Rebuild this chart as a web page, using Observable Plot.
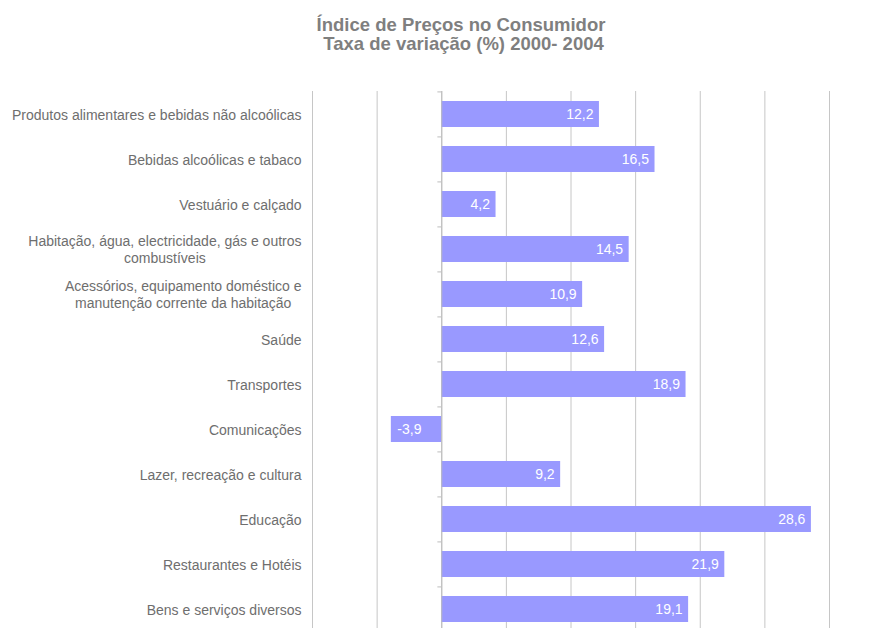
<!DOCTYPE html>
<html>
<head>
<meta charset="utf-8">
<script src="https://cdn.jsdelivr.net/npm/d3@7"></script>
<script src="https://cdn.jsdelivr.net/npm/@observablehq/plot@0.6"></script>
<style>
  html, body { margin: 0; padding: 0; background: #fff; overflow: hidden; }
  #title {
    width: 884px; height: 60px; box-sizing: border-box;
    padding-top: 15px; padding-left: 38px;
    text-align: center;
    font-family: "Liberation Sans", Arial, sans-serif;
    font-weight: bold; font-size: 18.5px; line-height: 19px;
    color: #7f7f7f;
  }
  svg { display: block; }
</style>
</head>
<body>
<div id="title">Índice de Preços no Consumidor<br>&nbsp;Taxa de variação (%) 2000- 2004</div>
<div id="chart"></div>
<script>
const categories = [
  "Produtos alimentares e bebidas não alcoólicas",
  "Bebidas alcoólicas e tabaco",
  "Vestuário e calçado",
  "Habitação, água, electricidade, gás e outros combustíveis",
  "Acessórios, equipamento doméstico e manutenção corrente da habitação",
  "Saúde",
  "Transportes",
  "Comunicações",
  "Lazer, recreação e cultura",
  "Educação",
  "Restaurantes e Hotéis",
  "Bens e serviços diversos"
];
const values = [12.2, 16.5, 4.2, 14.5, 10.9, 12.6, 18.9, -3.9, 9.2, 28.6, 21.9, 19.1];
const xTicks = [-10, -5, 0, 5, 10, 15, 20, 25, 30];

const data = categories.map((c, i) => ({category: c, value: values[i]}));
const fmt = v => d3.format(".1f")(v).replace(".", ",").replace("\u2212", "-");
const wrap = s => s.replace(" combustíveis", "\ncombustíveis").replace(" e manutenção", " e\nmanutenção");

const W = 884, H = 603, mT = 31, mB = 30, mL = 312, mR = 55;
const step = (H - mT - mB) / categories.length;

const chart = Plot.plot({
  width: W, height: H,
  marginLeft: mL, marginRight: mR, marginTop: mT, marginBottom: mB,
  style: {fontFamily: "'Liberation Sans', Arial, sans-serif", fontSize: "14px", background: "#fff"},
  x: {domain: [-10, 30], axis: null},
  y: {domain: categories, paddingInner: 0.42, paddingOuter: 0.21, label: null, axis: null},
  marks: [
    Plot.ruleX(xTicks, {stroke: "#c6c6c6", strokeWidth: 1}),
    Plot.barX(data, {x: "value", y: "category", fill: "#9999ff"}),
    Plot.ruleY(categories, {y: d => d, x1: -0.3, x2: 0, dy: -step / 2, stroke: "#bdbdbd"}),
    Plot.ruleX([0], {stroke: "#bdbdbd", strokeWidth: 1}),
    Plot.text(data.filter(d => d.value >= 0), {
      x: "value", y: "category", text: d => fmt(d.value),
      textAnchor: "end", dx: -6, fill: "#fff", fontSize: 14
    }),
    Plot.text(data.filter(d => d.value < 0), {
      x: "value", y: "category", text: d => fmt(d.value),
      textAnchor: "start", dx: 6, fill: "#fff", fontSize: 14
    }),
    Plot.axisY({
      tickSize: 0, tickPadding: 11, fontSize: 14, color: "#6e6e6e",
      lineHeight: 1.21, tickFormat: wrap, label: null
    })
  ]
});
document.getElementById("chart").append(chart);

// center multi-line category labels like the original
chart.querySelectorAll('g[aria-label="y-axis tick label"] text').forEach(t => {
  const spans = t.querySelectorAll("tspan");
  if (spans.length > 1) {
    const w = Math.max(...Array.from(spans, s => s.getComputedTextLength()));
    t.setAttribute("text-anchor", "middle");
    spans.forEach(s => s.setAttribute("x", -w / 2));
  }
});
</script>
</body>
</html>
